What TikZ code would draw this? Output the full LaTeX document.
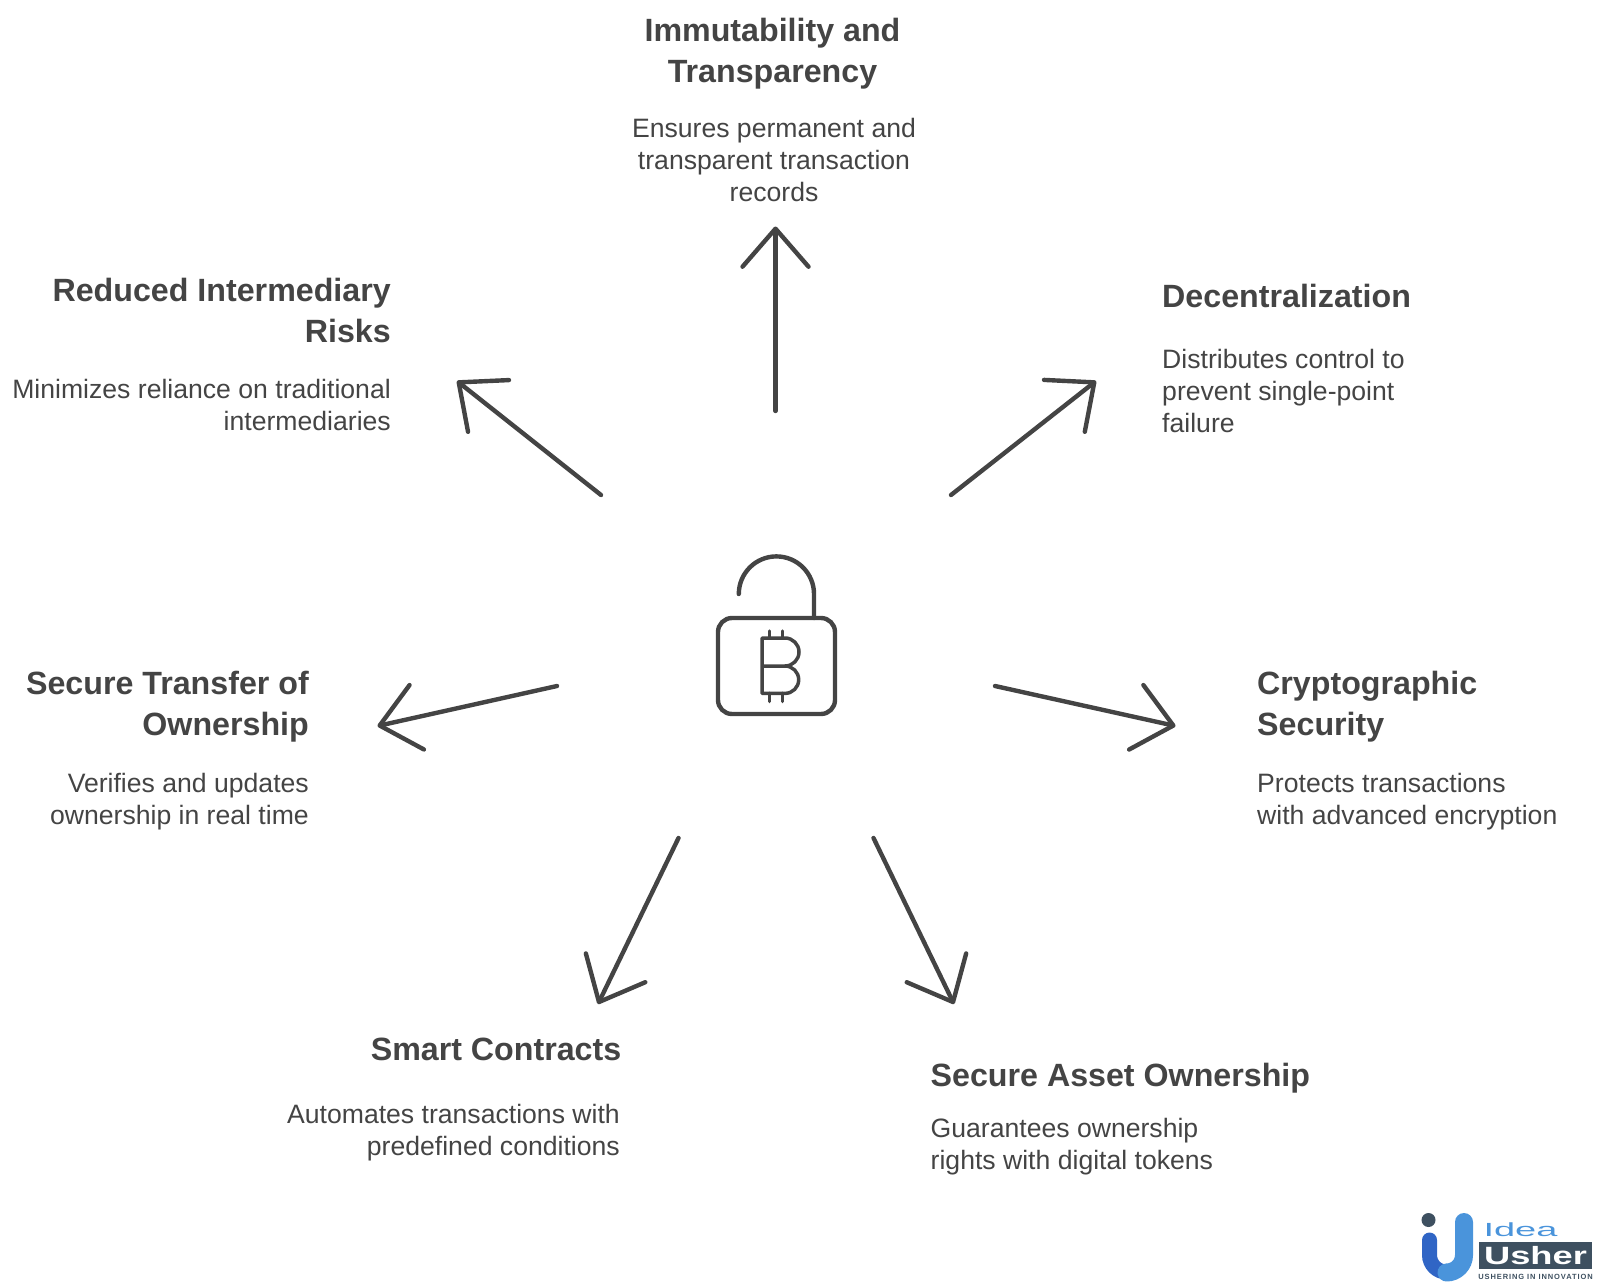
\documentclass[tikz,border=0pt]{standalone}
\usepackage{fontspec}
\setmainfont{Liberation Sans}
\usetikzlibrary{arrows.meta}
\definecolor{inkgray}{HTML}{444444}
\definecolor{logodark}{HTML}{3E5060}
\definecolor{logoblue}{HTML}{4A94DB}
\definecolor{logodeep}{HTML}{3065C5}
\tikzset{
	headline/.style={text=inkgray, inner sep=0pt, font=\fontsize{32.2}{41}\selectfont\bfseries},
	blurb/.style={text=inkgray, inner sep=0pt, font=\fontsize{26.6}{32}\selectfont},
	spoke/.style={draw=inkgray, line width=4.4pt, line cap=round, -{Straight Barb[length=38pt, width=66pt, round]}},
	lockline/.style={draw=inkgray, line width=4.4pt, line cap=round, line join=round},
	coinline/.style={draw=inkgray, line width=3.5pt, line cap=round, line join=round},
}
\begin{document}
\begin{tikzpicture}[x=1pt, y=-1pt]
	\useasboundingbox (0, 0) rectangle (1600, 1287);
	% labels
	\node[headline, align=center] (immutTitle) at (772.5, 54) {Immutability and\\Transparency};
	\node[blurb, align=center] (immutText) at (774, 159.5) {Ensures permanent and\\transparent transaction\\records};
	\node[headline, align=right, anchor=east] (reducedTitle) at (391, 310) {Reduced Intermediary\\Risks};
	\node[blurb, align=right, anchor=east] (reducedText) at (391, 404.5) {Minimizes reliance on traditional\\intermediaries};
	\node[headline, align=left, anchor=west] (decentTitle) at (1162, 296) {Decentralization};
	\node[blurb, align=left, anchor=west] (decentText) at (1162, 391) {Distributes control to\\prevent single-point\\failure};
	\node[headline, align=right, anchor=east] (transferTitle) at (309, 707) {Secure Transfer of\\Ownership};
	\node[blurb, align=right, anchor=east] (transferText) at (309, 801.5) {Verifies and updates\\ownership in real time};
	\node[headline, align=left, anchor=west] (cryptoTitle) at (1257, 707) {Cryptographic\\Security};
	\node[blurb, align=left, anchor=west] (cryptoText) at (1257, 801.5) {Protects transactions\\with advanced encryption};
	\node[headline, align=right, anchor=east] (smartTitle) at (621.5, 1049) {Smart Contracts};
	\node[blurb, align=right, anchor=east] (smartText) at (620, 1133) {Automates transactions with\\predefined conditions};
	\node[headline, align=left, anchor=west] (assetTitle) at (930.5, 1078.5) {Secure Asset Ownership};
	\node[blurb, align=left, anchor=west] (assetText) at (930.5, 1146.5) {Guarantees ownership\\rights with digital tokens};
	% spokes
	\coordinate (upFrom) at (775.5, 411);
	\coordinate (upTo) at (775.5, 226.5);
	\coordinate (urFrom) at (951, 495);
	\coordinate (urTo) at (1096, 381);
	\coordinate (ulFrom) at (601, 495);
	\coordinate (ulTo) at (457, 381);
	\coordinate (rFrom) at (995, 686);
	\coordinate (rTo) at (1175.5, 726);
	\coordinate (lFrom) at (557, 686);
	\coordinate (lTo) at (377.5, 726);
	\coordinate (drFrom) at (873.5, 838);
	\coordinate (drTo) at (954, 1004);
	\coordinate (dlFrom) at (678.5, 838);
	\coordinate (dlTo) at (598, 1004);
	\draw[spoke] (upFrom) -- (upTo);
	\draw[spoke] (urFrom) -- (urTo);
	\draw[spoke] (ulFrom) -- (ulTo);
	\draw[spoke] (rFrom) -- (rTo);
	\draw[spoke] (lFrom) -- (lTo);
	\draw[spoke] (drFrom) -- (drTo);
	\draw[spoke] (dlFrom) -- (dlTo);
	% padlock
	\draw[lockline, rounded corners=14pt] (718, 618) rectangle (835, 714);
	\draw[lockline] (814, 618) -- (814, 594) arc (0:180:37.6pt);
	% coin sign
	\draw[coinline] (785, 666) -- (762, 666) -- (762, 638) -- (785, 638) arc (90:-90:14pt) arc (90:-90:13.7pt) -- (762, 693.4) -- (762, 666);
	\draw[coinline] (769.5, 631) -- (769.5, 638);
	\draw[coinline] (782.5, 631) -- (782.5, 638);
	\draw[coinline] (769.5, 693.4) -- (769.5, 701.5);
	\draw[coinline] (782.5, 693.4) -- (782.5, 701.5);
	% logo
	\fill[logodark] (1428.5, 1220) circle (7pt);
	\draw[logodeep, line width=15pt, line cap=round] (1429.5, 1240) -- (1429.5, 1255) arc (180:270:17pt);
	\draw[logoblue, line width=18pt, line cap=round] (1464, 1222) -- (1464, 1255) arc (0:-90:17.5pt);
	\fill[logodark] (1479, 1242) rectangle (1592, 1269);
	\node[text=logoblue, inner sep=0pt, font=\fontsize{19}{19}\selectfont] (logoIdea) at (1520.5, 1229.5) {\scalebox{2}[1]{Idea}};
	\node[text=white, inner sep=0pt, font=\fontsize{25}{25}\selectfont\bfseries] (logoUsher) at (1535.5, 1255.5) {\scalebox{1.45}[1]{Usher}};
	\node[text=logodark, inner sep=0pt, font=\fontsize{7.5}{8}\selectfont\bfseries] (logoTag) at (1535.5, 1277) {\addfontfeature{LetterSpace=12}USHERING IN INNOVATION};
\end{tikzpicture}
\end{document}
